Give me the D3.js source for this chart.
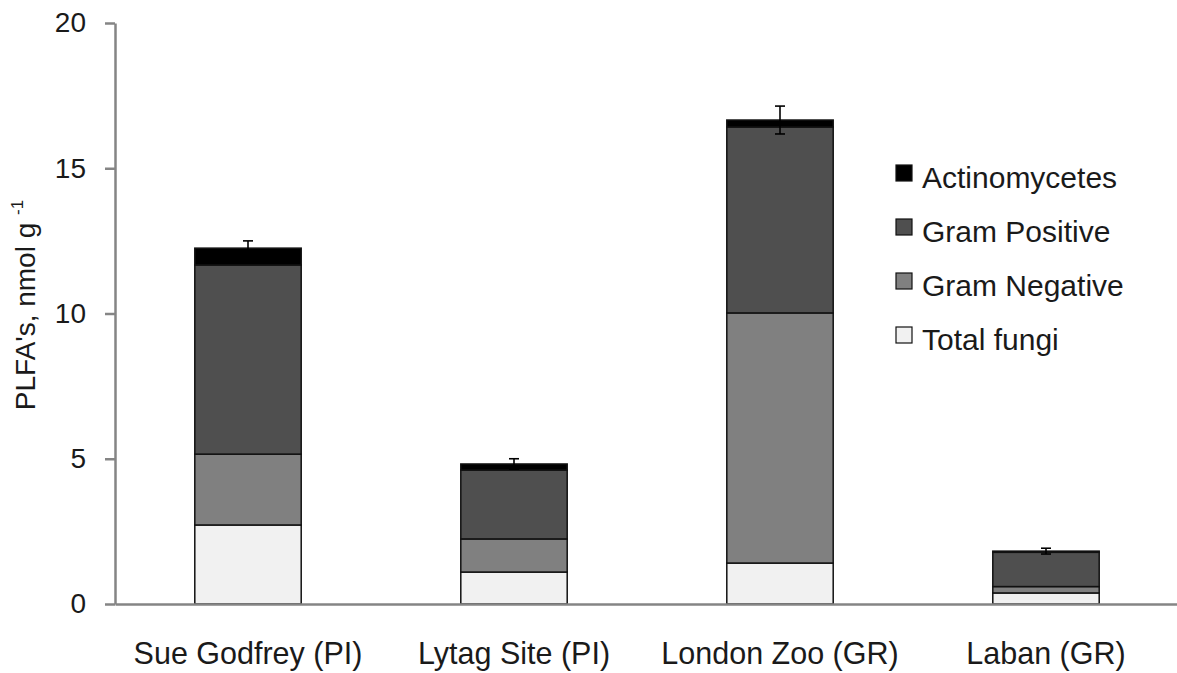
<!DOCTYPE html>
<html>
<head>
<meta charset="utf-8">
<script src="https://cdn.jsdelivr.net/npm/d3@7"></script>
<style>
  html, body { margin: 0; padding: 0; background: #fff; }
  svg { display: block; font-family: "Liberation Sans", Arial, sans-serif; }
</style>
</head>
<body>
<svg id="chart" width="1177" height="673"></svg>
<script>
// PLFA biomarker totals per site, stacked by microbial group (nmol g-1)
const sites = ["Sue Godfrey (PI)", "Lytag Site (PI)", "London Zoo (GR)", "Laban (GR)"];
const totalFungi    = [2.72, 1.10, 1.41, 0.38];
const gramNegative  = [2.44, 1.14, 8.61, 0.22];
const gramPositive  = [6.51, 2.37, 6.40, 1.18];
const actinomycetes = [0.58, 0.21, 0.24, 0.04];
const totalError    = [0.25, 0.18, 0.48, 0.10];
const yTicks = [0, 5, 10, 15, 20];

// stacking order, bottom to top
const groups = [
  { key: "Total fungi",   values: totalFungi,    fill: "#f1f1f1" },
  { key: "Gram Negative", values: gramNegative,  fill: "#808080" },
  { key: "Gram Positive", values: gramPositive,  fill: "#4f4f4f" },
  { key: "Actinomycetes", values: actinomycetes, fill: "#000000" }
];

const rows = sites.map((s, i) => {
  const r = { site: s };
  groups.forEach(g => { r[g.key] = g.values[i]; });
  return r;
});

const svg = d3.select("#chart");

const x = d3.scaleBand()
  .domain(sites)
  .range([115, 1179])
  .paddingInner(0.6)
  .paddingOuter(0.3);

const y = d3.scaleLinear()
  .domain([0, 20])
  .range([604, 23]);

const stack = d3.stack().keys(groups.map(g => g.key));
const layers = stack(rows);

// stacked bars
svg.append("g")
  .selectAll("g")
  .data(layers)
  .join("g")
    .attr("fill", (d, i) => groups[i].fill)
  .selectAll("rect")
  .data(d => d)
  .join("rect")
    .attr("x", d => x(d.data.site))
    .attr("width", x.bandwidth())
    .attr("y", d => y(d[1]))
    .attr("height", d => y(d[0]) - y(d[1]))
    .attr("stroke", "#111")
    .attr("stroke-width", 1.5);

// error bars on the stack totals
const totals = rows.map((r, i) => ({
  site: r.site,
  total: groups.reduce((s, g) => s + r[g.key], 0),
  err: totalError[i]
}));
const capHalf = 5;
const eb = svg.append("g").attr("stroke", "#000").attr("stroke-width", 1.6);
totals.forEach(t => {
  const cx = x(t.site) + x.bandwidth() / 2;
  eb.append("line")
    .attr("x1", cx).attr("x2", cx)
    .attr("y1", y(t.total - t.err)).attr("y2", y(t.total + t.err));
  [t.total - t.err, t.total + t.err].forEach(v => {
    eb.append("line")
      .attr("x1", cx - capHalf).attr("x2", cx + capHalf)
      .attr("y1", y(v)).attr("y2", y(v));
  });
});

// axes
const yAxis = svg.append("g")
  .attr("transform", "translate(115,0)")
  .call(d3.axisLeft(y).tickValues(yTicks).tickSize(10).tickPadding(19).tickSizeOuter(0));
const xAxis = svg.append("g")
  .attr("transform", "translate(0,604)")
  .call(d3.axisBottom(x).tickSize(0).tickPadding(38));

[yAxis, xAxis].forEach(a => {
  a.selectAll(".domain, .tick line").attr("stroke", "#858585").attr("stroke-width", 2.5);
  a.selectAll("text").attr("fill", "#1a1a1a").attr("font-size", 28)
    .attr("font-family", "Liberation Sans, Arial, sans-serif");
});
xAxis.selectAll("text").attr("font-size", 30.5);

// y axis title
const yTitle = svg.append("text")
  .attr("transform", "translate(35,305) rotate(-90)")
  .attr("text-anchor", "middle")
  .attr("fill", "#1a1a1a")
  .attr("font-size", 28);
yTitle.append("tspan").text("PLFA's, nmol g ");
yTitle.append("tspan").attr("font-size", 17).attr("dy", -12).text("-1");

// legend, top group first
const legend = svg.append("g").attr("transform", "translate(896,165)");
const legendItems = groups.slice().reverse();
legendItems.forEach((g, i) => {
  const row = legend.append("g").attr("transform", `translate(0,${i * 54})`);
  row.append("rect")
    .attr("width", 16).attr("height", 16)
    .attr("fill", g.fill)
    .attr("stroke", "#111").attr("stroke-width", 1.2);
  row.append("text")
    .attr("x", 26).attr("y", 23)
    .attr("fill", "#1a1a1a")
    .attr("font-size", 30)
    .text(g.key);
});
</script>
</body>
</html>
